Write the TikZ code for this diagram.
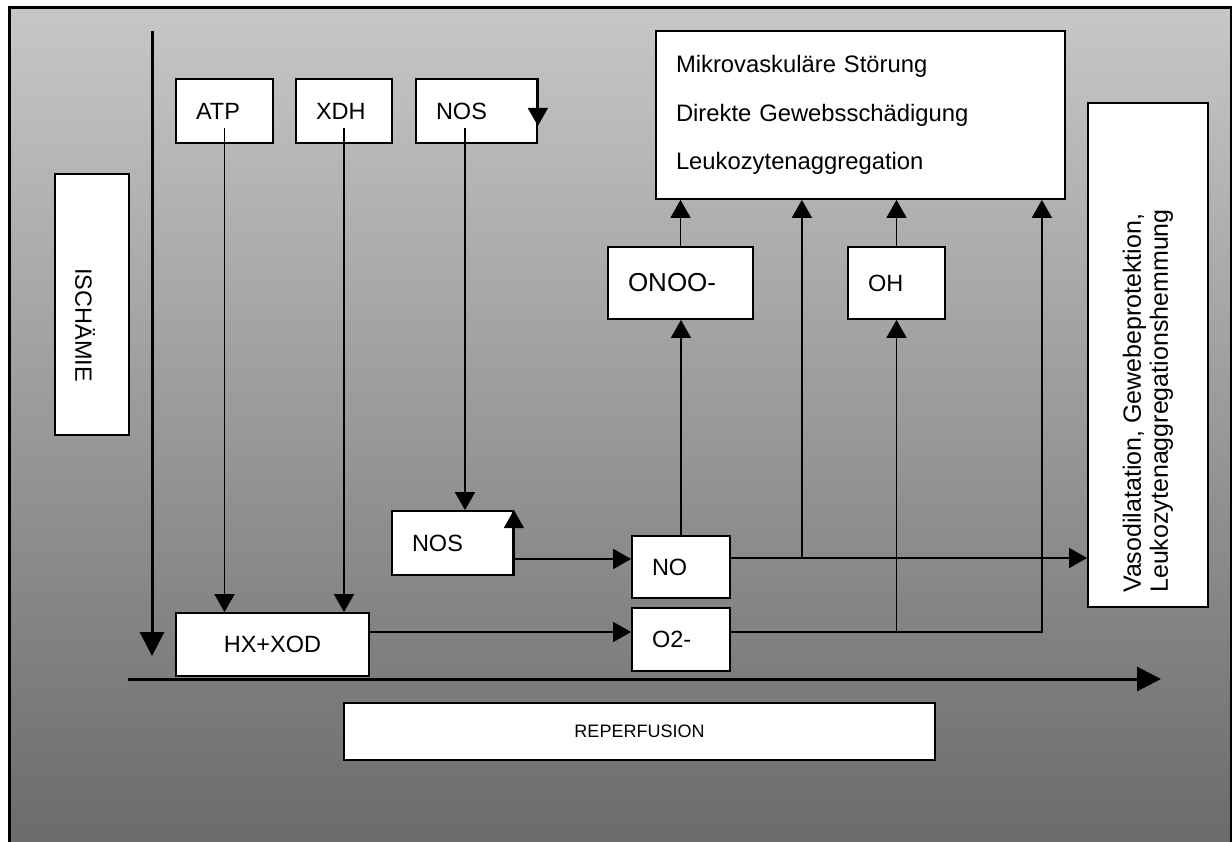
\documentclass[tikz,border=0pt]{standalone}
\usepackage{fontspec}
\setmainfont{Liberation Sans}
\usetikzlibrary{arrows.meta}
\tikzset{
  box/.style={draw, fill=white, line width=1.8pt, inner xsep=20pt, inner ysep=0pt, align=left},
  arr/.style={line width=1.7pt, -{Triangle[width=20pt,length=18pt]}},
  axis/.style={line width=3pt, -{Triangle[width=24pt,length=24pt]}},
  every node/.style={font=\fontsize{23.5}{28}\selectfont}
}
\begin{document}
\begin{tikzpicture}[x=1pt, y=-1pt]
            \useasboundingbox (0,0) rectangle (1232,842);
            \clip (0,0) rectangle (1232,842);
            \shade[top color=black!22, middle color=black!35, bottom color=black!58] (8,7) rectangle (1231,842);
            \draw[line width=3pt] (9,8) rectangle (1231.5,870);

            \coordinate (ischtop) at (152,31);
            \coordinate (ischend) at (152,656);
            \coordinate (reperstart) at (128,679);
            \coordinate (reperend) at (1161,679);
            \draw[axis] (ischtop) -- (ischend);
            \draw[axis] (reperstart) -- (reperend);

            \node[box, minimum width=74pt, minimum height=261pt] (isch) at (92,304.5) {};
            \node[rotate=-90] (ischlabel) at (85,325) {ISCHÄMIE};
            \node[box, align=center, minimum width=591pt, minimum height=57pt, font=\fontsize{18}{22}\selectfont] (reper) at (639.5,731.5) {REPERFUSION};

            \node[box, text width=57pt, minimum height=64pt] (atp) at (224.5,111) {ATP};
            \node[box, text width=56pt, minimum height=64pt] (xdh) at (344,111) {XDH};
            \node[box, text width=81pt, minimum height=64pt] (nosa) at (476.5,111) {NOS};
            \node[box, align=center, text width=153pt, minimum height=63pt] (hx) at (272.5,644.5) {HX+XOD};
            \node[box, text width=81pt, minimum height=64pt] (nosb) at (452.5,543) {NOS};
            \node[box, text width=58pt, minimum height=62pt] (no) at (681,567) {NO};
            \node[box, text width=58pt, minimum height=63pt] (otwo) at (681,639.5) {O2-};
            \node[box, text width=105pt, minimum height=72pt, font=\fontsize{26}{30}\selectfont] (onoo) at (680.5,283) {ONOO-};
            \node[box, text width=57pt, minimum height=72pt] (oh) at (896.5,283) {OH};
            \node[box, text width=369pt, minimum height=168pt, font=\fontsize{23.8}{48.5}\selectfont] (effects) at (860.5,115)
              {Mikrovaskuläre Störung\\Direkte Gewebsschädigung\\Leukozytenaggregation};
            \node[box, minimum width=120pt, minimum height=504pt] (vaso) at (1148,355) {};
            \node[rotate=90, align=left, font=\fontsize{25}{27}\selectfont] (vasolabel) at (1148,401)
              {Vasodilatation, Gewebeprotektion,\\Leukozytenaggregationshemmung};

            \draw[arr] ([yshift=16pt]atp.south) -- (atp |- hx.north);
            \draw[arr] ([yshift=16pt]xdh.south) -- (xdh |- hx.north);
            \draw[arr] ([xshift=-11.5pt,yshift=16pt]nosa.south) -- ([xshift=12.5pt]nosb.north);
            \draw[arr] (nosa.north east) -- ([yshift=18pt]nosa.south east);
            \draw[arr] (nosb.south east) -- (nosb.north east);
            \draw[arr] ([yshift=-16pt]nosb.east) -- ([yshift=8pt]no.west);
            \draw[arr] ([yshift=12.5pt]hx.east) -- ([yshift=7.5pt]otwo.west);

            \draw[arr] (no.north) -- (no.north |- onoo.south);
            \draw[arr] (onoo.north) -- (onoo.north |- effects.south);
            \draw[arr] (oh.north) -- (oh.north |- effects.south);

            \coordinate (noout) at ([yshift=9pt]no.east);
            \path (noout) ++(71pt,0) coordinate (nojoin);
            \draw[arr] (noout) -- (noout -| vaso.west);
            \draw[arr] (nojoin) -- (nojoin |- effects.south);

            \coordinate (otwoout) at ([yshift=7.5pt]otwo.east);
            \path (otwoout) ++(311pt,0) coordinate (otwojoin);
            \draw[arr] (otwoout) -- (otwojoin) -- (otwojoin |- effects.south);
            \draw[arr] (otwoout -| oh.south) -- (oh.south);
\end{tikzpicture}
\end{document}
